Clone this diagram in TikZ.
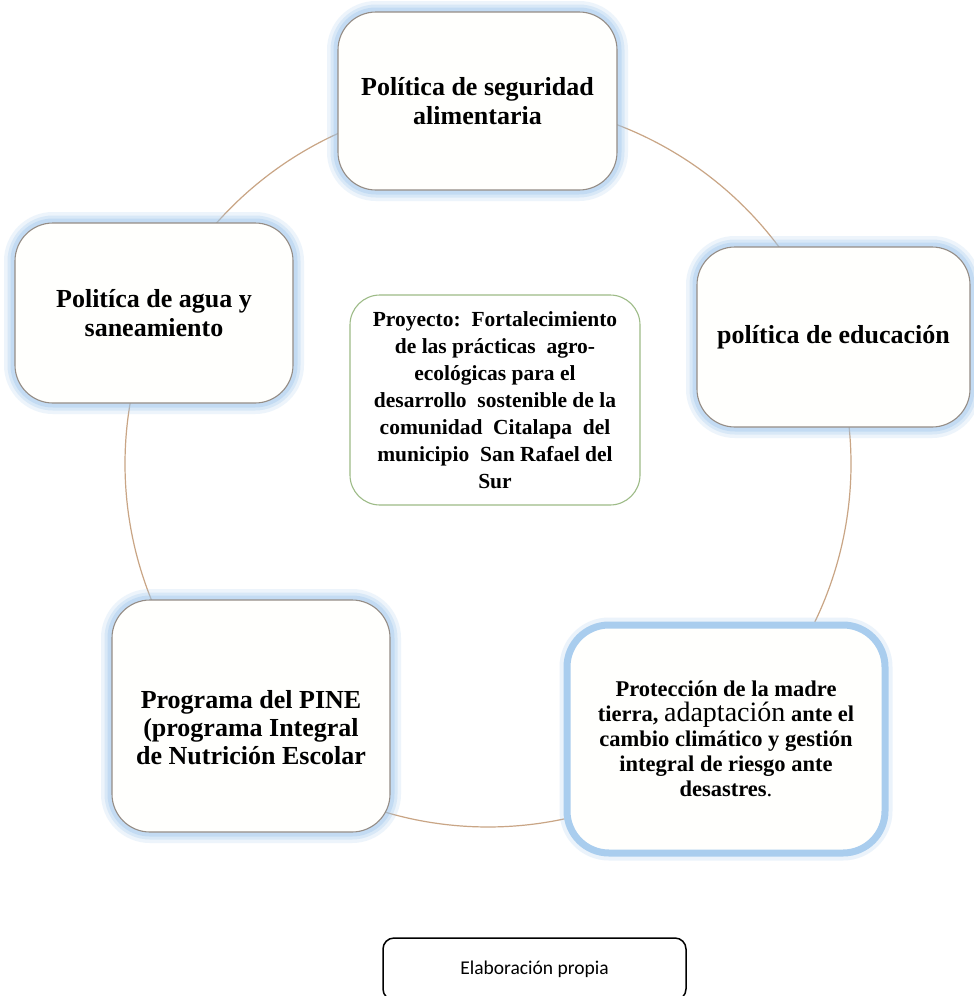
\documentclass[tikz,border=0pt]{standalone}
\usepackage{fontspec}
\setmainfont{Liberation Serif}
\newfontfamily\capfont{Carlito}
\definecolor{ringc}{HTML}{C9A585}
\definecolor{glowc}{HTML}{9CC5EC}
\definecolor{boxline}{HTML}{958D86}
\definecolor{boxfill}{HTML}{FFFFFD}
\definecolor{thickblue}{HTML}{A9CDEE}
\definecolor{greenline}{HTML}{9DBB87}
\begin{document}
\begin{tikzpicture}[x=1pt,y=-1pt,
  ring/.style={draw=ringc, line width=1.2pt},
  glow/.style={preaction={draw=glowc, draw opacity=0.18, line width=22pt},
     preaction={draw=glowc, draw opacity=0.25, line width=15pt},
     preaction={draw=glowc, draw opacity=0.35, line width=9pt}},
  policybox/.style={rectangle, rounded corners=38pt, fill=boxfill, draw=boxline, line width=1.1pt,
     glow, inner sep=0pt, align=center, font=\bfseries\fontsize{26}{28.5}\selectfont},
  bluebox/.style={rectangle, rounded corners=42pt, fill=boxfill, draw=thickblue, line width=7pt,
     preaction={draw=glowc, draw opacity=0.2, line width=15pt},
     inner sep=0pt, align=center, font=\bfseries\fontsize{22.5}{25}\selectfont},
  centerbox/.style={rectangle, rounded corners=30pt, fill=white, draw=greenline, line width=1.1pt,
     inner sep=0pt, align=center, font=\bfseries\fontsize{21.5}{27}\selectfont},
  plaintext/.style={inner sep=0pt, align=center, font=\bfseries\fontsize{26}{28}\selectfont},
  capbox/.style={rectangle, rounded corners=11pt, draw=black, line width=1.5pt, fill=white,
     inner sep=0pt, font=\capfont\fontsize{19.5}{22}\selectfont}
]
\useasboundingbox (0,0) rectangle (974,996);
\clip (0,0) rectangle (974,996);
\fill[white] (0,0) rectangle (974,996);

% ring behind the boxes
\coordinate (O) at (488,464);
\coordinate (pA) at ([shift={(-91.7:363)}]O);
\coordinate (pB) at ([shift={(-155.7:363)}]O);
\coordinate (pC) at ([shift={(-20.2:363)}]O);
\coordinate (pD) at ([shift={(49.1:363)}]O);
\coordinate (pE) at ([shift={(133.2:363)}]O);
\draw[ring] (pA) arc[start angle=-91.7, end angle=-155.7, radius=363];
\draw[ring] (pB) arc[start angle=-155.7, end angle=-226.8, radius=363];
\draw[ring] (pE) arc[start angle=133.2, end angle=49.1, radius=363];
\draw[ring] (pD) arc[start angle=49.1, end angle=-20.2, radius=363];
\draw[ring] (pC) arc[start angle=-20.2, end angle=-91.7, radius=363];

\node[policybox, minimum width=279pt, minimum height=178pt] (A) at (477.5,101)
  {Política de seguridad\\alimentaria};
\node[policybox, minimum width=278pt, minimum height=180pt] (B) at (154,313)
  {Politíca de agua y\\saneamiento};
\node[policybox, minimum width=273pt, minimum height=180pt] (C) at (833.5,337)
  {política de educación};
\node[bluebox, minimum width=318pt, minimum height=228pt] (D) at (726,739)
  {Protección de la madre\\tierra, {\mdseries\fontsize{28}{25}\selectfont adaptación} ante el\\cambio climático y gestión\\integral de riesgo ante\\desastres{\mdseries .}};
\node[policybox, minimum width=278pt, minimum height=232pt] (E) at (251,716) {};
\node[plaintext] (Et) at (251,728)
  {Programa del PINE\\(programa Integral\\de Nutrición Escolar};
\node[centerbox, minimum width=290pt, minimum height=210pt] (F) at (495,400)
  {Proyecto:\ \ Fortalecimiento\\de las prácticas\ \ agro-\\ecológicas para el\\desarrollo\ \ sostenible de la\\comunidad\ \ Citalapa\ \ del\\municipio\ \ San Rafael del\\Sur};

\node[capbox, minimum width=303pt, minimum height=62pt] (G) at (534.5,969) {Elaboración propia};
\end{tikzpicture}
\end{document}
